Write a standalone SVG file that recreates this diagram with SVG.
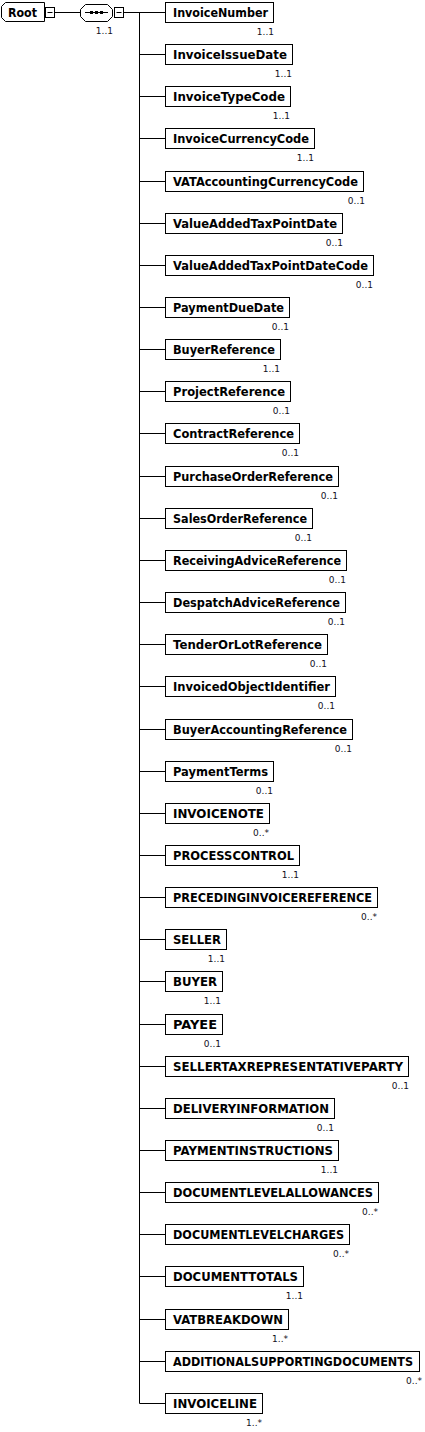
<svg xmlns="http://www.w3.org/2000/svg" width="425" height="1432" viewBox="0 0 425 1432">
<style>
.bx{fill:#fff;stroke:#000;stroke-width:1}
.nm{font-family:"DejaVu Sans",Verdana,sans-serif;font-weight:bold;font-size:12px;fill:#000}
.ml{font-family:"DejaVu Sans",Verdana,sans-serif;font-size:9px;fill:#111122;text-anchor:end}
.ln{stroke:#000;stroke-width:1;fill:none}
</style>
<rect width="425" height="1432" fill="#fff"/>
<g id="connectors">
<path class="ln" d="M54.5,12.5H80M123.5,12.5H165M139.5,12.5V1403.5"/>
<path class="ln" d="M139.5,12.5H165M139.5,54.5H165M139.5,96.5H165M139.5,138.5H165M139.5,181.5H165M139.5,223.5H165M139.5,265.5H165M139.5,307.5H165M139.5,349.5H165M139.5,391.5H165M139.5,433.5H165M139.5,476.5H165M139.5,518.5H165M139.5,560.5H165M139.5,602.5H165M139.5,644.5H165M139.5,686.5H165M139.5,729.5H165M139.5,771.5H165M139.5,813.5H165M139.5,855.5H165M139.5,897.5H165M139.5,939.5H165M139.5,981.5H165M139.5,1024.5H165M139.5,1066.5H165M139.5,1108.5H165M139.5,1150.5H165M139.5,1192.5H165M139.5,1234.5H165M139.5,1276.5H165M139.5,1319.5H165M139.5,1361.5H165M139.5,1403.5H165"/>
</g>
<g id="root">
<path class="bx" d="M5.5,2.5H44.5V21.5H5.5L1.5,17.5V6.5Z"/>
<text class="nm" x="8" y="17" font-size="13" textLength="29" lengthAdjust="spacingAndGlyphs">Root</text>
<rect class="bx" x="45.5" y="7.5" width="9" height="10"/>
<path class="ln" d="M47.5,12.5H52.5"/>
</g>
<g id="sequence">
<path class="bx" d="M85.5,4.5H107.5L112.5,9.5V16.5L107.5,21.5H85.5L80.5,16.5V9.5Z"/>
<path class="ln" d="M85,12.5H108"/>
<rect x="90" y="11" width="3" height="3" fill="#000"/>
<rect x="95" y="11" width="3" height="3" fill="#000"/>
<rect x="100" y="11" width="3" height="3" fill="#000"/>
<rect class="bx" x="114.5" y="7.5" width="9" height="10"/>
<path class="ln" d="M116.5,12.5H121.5"/>
<text class="ml" x="113" y="34">1..1</text>
</g>
<g id="n0"><rect class="bx" x="165.5" y="2.5" width="108" height="20"/><text class="nm" x="173" y="17" textLength="95" lengthAdjust="spacingAndGlyphs">InvoiceNumber</text><text class="ml" x="274" y="35">1..1</text></g>
<g id="n1"><rect class="bx" x="165.5" y="44.5" width="127" height="20"/><text class="nm" x="173" y="59" textLength="114" lengthAdjust="spacingAndGlyphs">InvoiceIssueDate</text><text class="ml" x="292" y="77">1..1</text></g>
<g id="n2"><rect class="bx" x="165.5" y="86.5" width="125" height="20"/><text class="nm" x="173" y="101" textLength="112" lengthAdjust="spacingAndGlyphs">InvoiceTypeCode</text><text class="ml" x="290" y="119">1..1</text></g>
<g id="n3"><rect class="bx" x="165.5" y="128.5" width="149" height="20"/><text class="nm" x="173" y="143" textLength="136" lengthAdjust="spacingAndGlyphs">InvoiceCurrencyCode</text><text class="ml" x="314" y="161">1..1</text></g>
<g id="n4"><rect class="bx" x="165.5" y="171.5" width="198" height="20"/><text class="nm" x="173" y="186" textLength="185" lengthAdjust="spacingAndGlyphs">VATAccountingCurrencyCode</text><text class="ml" x="365" y="204">0..1</text></g>
<g id="n5"><rect class="bx" x="165.5" y="213.5" width="177" height="20"/><text class="nm" x="173" y="228" textLength="164" lengthAdjust="spacingAndGlyphs">ValueAddedTaxPointDate</text><text class="ml" x="343" y="246">0..1</text></g>
<g id="n6"><rect class="bx" x="165.5" y="255.5" width="208" height="20"/><text class="nm" x="173" y="270" textLength="195" lengthAdjust="spacingAndGlyphs">ValueAddedTaxPointDateCode</text><text class="ml" x="373" y="288">0..1</text></g>
<g id="n7"><rect class="bx" x="165.5" y="297.5" width="124" height="20"/><text class="nm" x="173" y="312" textLength="111" lengthAdjust="spacingAndGlyphs">PaymentDueDate</text><text class="ml" x="289" y="330">0..1</text></g>
<g id="n8"><rect class="bx" x="165.5" y="339.5" width="115" height="20"/><text class="nm" x="173" y="354" textLength="102" lengthAdjust="spacingAndGlyphs">BuyerReference</text><text class="ml" x="280" y="372">1..1</text></g>
<g id="n9"><rect class="bx" x="165.5" y="381.5" width="125" height="20"/><text class="nm" x="173" y="396" textLength="112" lengthAdjust="spacingAndGlyphs">ProjectReference</text><text class="ml" x="290" y="414">0..1</text></g>
<g id="n10"><rect class="bx" x="165.5" y="423.5" width="134" height="20"/><text class="nm" x="173" y="438" textLength="121" lengthAdjust="spacingAndGlyphs">ContractReference</text><text class="ml" x="299" y="456">0..1</text></g>
<g id="n11"><rect class="bx" x="165.5" y="466.5" width="173" height="20"/><text class="nm" x="173" y="481" textLength="160" lengthAdjust="spacingAndGlyphs">PurchaseOrderReference</text><text class="ml" x="338" y="499">0..1</text></g>
<g id="n12"><rect class="bx" x="165.5" y="508.5" width="147" height="20"/><text class="nm" x="173" y="523" textLength="134" lengthAdjust="spacingAndGlyphs">SalesOrderReference</text><text class="ml" x="312" y="541">0..1</text></g>
<g id="n13"><rect class="bx" x="165.5" y="550.5" width="181" height="20"/><text class="nm" x="173" y="565" textLength="168" lengthAdjust="spacingAndGlyphs">ReceivingAdviceReference</text><text class="ml" x="346" y="583">0..1</text></g>
<g id="n14"><rect class="bx" x="165.5" y="592.5" width="180" height="20"/><text class="nm" x="173" y="607" textLength="167" lengthAdjust="spacingAndGlyphs">DespatchAdviceReference</text><text class="ml" x="345" y="625">0..1</text></g>
<g id="n15"><rect class="bx" x="165.5" y="634.5" width="162" height="20"/><text class="nm" x="173" y="649" textLength="149" lengthAdjust="spacingAndGlyphs">TenderOrLotReference</text><text class="ml" x="327" y="667">0..1</text></g>
<g id="n16"><rect class="bx" x="165.5" y="676.5" width="170" height="20"/><text class="nm" x="173" y="691" textLength="157" lengthAdjust="spacingAndGlyphs">InvoicedObjectIdentifier</text><text class="ml" x="335" y="709">0..1</text></g>
<g id="n17"><rect class="bx" x="165.5" y="719.5" width="187" height="20"/><text class="nm" x="173" y="734" textLength="174" lengthAdjust="spacingAndGlyphs">BuyerAccountingReference</text><text class="ml" x="352" y="752">0..1</text></g>
<g id="n18"><rect class="bx" x="165.5" y="761.5" width="108" height="20"/><text class="nm" x="173" y="776" textLength="95" lengthAdjust="spacingAndGlyphs">PaymentTerms</text><text class="ml" x="273" y="794">0..1</text></g>
<g id="n19"><rect class="bx" x="165.5" y="803.5" width="104" height="20"/><text class="nm" x="173" y="818" textLength="91" lengthAdjust="spacingAndGlyphs">INVOICENOTE</text><text class="ml" x="269" y="836">0..*</text></g>
<g id="n20"><rect class="bx" x="165.5" y="845.5" width="134" height="20"/><text class="nm" x="173" y="860" textLength="121" lengthAdjust="spacingAndGlyphs">PROCESSCONTROL</text><text class="ml" x="299" y="878">1..1</text></g>
<g id="n21"><rect class="bx" x="165.5" y="887.5" width="212" height="20"/><text class="nm" x="173" y="902" textLength="199" lengthAdjust="spacingAndGlyphs">PRECEDINGINVOICEREFERENCE</text><text class="ml" x="377" y="920">0..*</text></g>
<g id="n22"><rect class="bx" x="165.5" y="929.5" width="61" height="20"/><text class="nm" x="173" y="944" textLength="48" lengthAdjust="spacingAndGlyphs">SELLER</text><text class="ml" x="225" y="962">1..1</text></g>
<g id="n23"><rect class="bx" x="165.5" y="971.5" width="57" height="20"/><text class="nm" x="173" y="986" textLength="44" lengthAdjust="spacingAndGlyphs">BUYER</text><text class="ml" x="221" y="1004">1..1</text></g>
<g id="n24"><rect class="bx" x="165.5" y="1014.5" width="57" height="20"/><text class="nm" x="173" y="1029" textLength="44" lengthAdjust="spacingAndGlyphs">PAYEE</text><text class="ml" x="221" y="1047">0..1</text></g>
<g id="n25"><rect class="bx" x="165.5" y="1056.5" width="243" height="20"/><text class="nm" x="173" y="1071" textLength="230" lengthAdjust="spacingAndGlyphs">SELLERTAXREPRESENTATIVEPARTY</text><text class="ml" x="409" y="1089">0..1</text></g>
<g id="n26"><rect class="bx" x="165.5" y="1098.5" width="169" height="20"/><text class="nm" x="173" y="1113" textLength="156" lengthAdjust="spacingAndGlyphs">DELIVERYINFORMATION</text><text class="ml" x="334" y="1131">0..1</text></g>
<g id="n27"><rect class="bx" x="165.5" y="1140.5" width="173" height="20"/><text class="nm" x="173" y="1155" textLength="160" lengthAdjust="spacingAndGlyphs">PAYMENTINSTRUCTIONS</text><text class="ml" x="338" y="1173">1..1</text></g>
<g id="n28"><rect class="bx" x="165.5" y="1182.5" width="213" height="20"/><text class="nm" x="173" y="1197" textLength="200" lengthAdjust="spacingAndGlyphs">DOCUMENTLEVELALLOWANCES</text><text class="ml" x="378" y="1215">0..*</text></g>
<g id="n29"><rect class="bx" x="165.5" y="1224.5" width="184" height="20"/><text class="nm" x="173" y="1239" textLength="171" lengthAdjust="spacingAndGlyphs">DOCUMENTLEVELCHARGES</text><text class="ml" x="349" y="1257">0..*</text></g>
<g id="n30"><rect class="bx" x="165.5" y="1266.5" width="138" height="20"/><text class="nm" x="173" y="1281" textLength="125" lengthAdjust="spacingAndGlyphs">DOCUMENTTOTALS</text><text class="ml" x="303" y="1299">1..1</text></g>
<g id="n31"><rect class="bx" x="165.5" y="1309.5" width="123" height="20"/><text class="nm" x="173" y="1324" textLength="110" lengthAdjust="spacingAndGlyphs">VATBREAKDOWN</text><text class="ml" x="288" y="1342">1..*</text></g>
<g id="n32"><rect class="bx" x="165.5" y="1351.5" width="254" height="20"/><text class="nm" x="173" y="1366" font-size="10" textLength="240" lengthAdjust="spacingAndGlyphs">ADDITIONALSUPPORTINGDOCUMENTS</text><text class="ml" x="422" y="1384">0..*</text></g>
<g id="n33"><rect class="bx" x="165.5" y="1393.5" width="97" height="20"/><text class="nm" x="173" y="1408" textLength="84" lengthAdjust="spacingAndGlyphs">INVOICELINE</text><text class="ml" x="262" y="1426">1..*</text></g>
</svg>
